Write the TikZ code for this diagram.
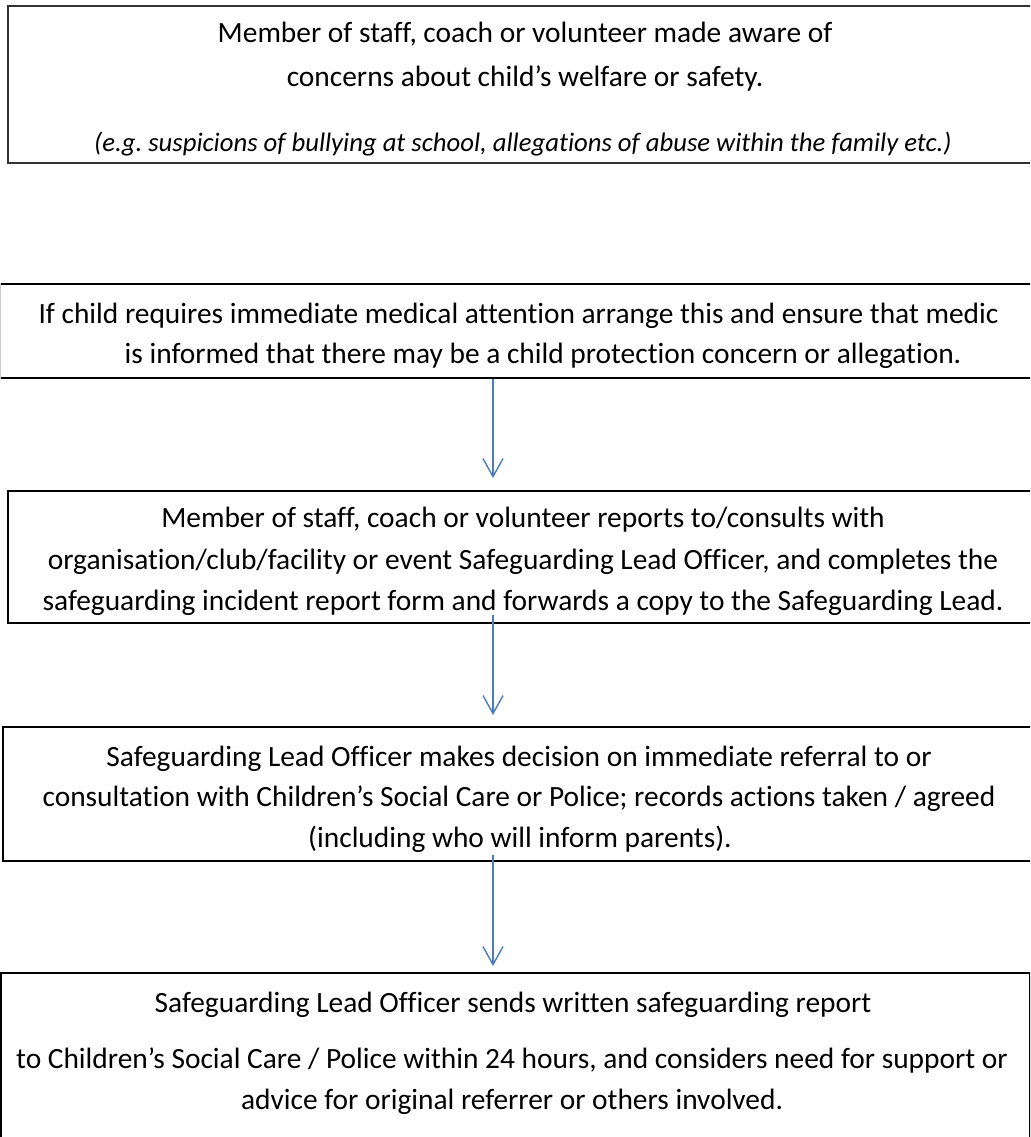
\documentclass[tikz,border=0pt]{standalone}
\usepackage{fontspec}
\setmainfont{Carlito}[Ligatures={NoCommon}]
\usetikzlibrary{arrows.meta}
\definecolor{arrblue}{HTML}{4A7EBB}
\definecolor{boxgray}{HTML}{333333}
\begin{document}
\frenchspacing
\begin{tikzpicture}[x=1pt,y=-1pt,
  box/.style={draw=black, line width=2pt, rectangle, inner sep=0pt, anchor=north west},
  txt/.style={anchor=base, inner sep=0pt, font=\fontsize{29.4}{34}\selectfont},
  itxt/.style={txt, font=\fontsize{26.7}{32}\selectfont\itshape},
  arr/.style={draw=arrblue, line width=1.4pt, -{Straight Barb[length=18pt,width=20pt,line width=1.4pt]}}]
\useasboundingbox (0,0) rectangle (1030,1137);
\clip (0,0) rectangle (1030,1137);
% boxes
\node[box, draw=boxgray, minimum width=1040pt, minimum height=157pt] (b1) at (7,5) {};
\node[box, minimum width=1040pt, minimum height=94pt, line width=2.4pt] (b2) at (-2,283) {};
\draw[gray!40, line width=1pt] (b2.north west -| 0.5,0) -- (b2.south west -| 0.5,0);
\node[box, minimum width=1040pt, minimum height=132pt] (b3) at (7,490) {};
\node[box, minimum width=1040pt, minimum height=134pt] (b4) at (2,726) {};
\node[box, minimum width=1029pt, minimum height=200pt, line width=1.5pt] (b5) at (0,972) {};
% texts
\node[txt] (t11) at (525,43) {Member of staff, coach or volunteer made aware of};
\node[txt] (t12) at (525,87) {concerns about child’s welfare or safety.};
\node[itxt] (t13) at (523,151) {(e.g. suspicions of bullying at school, allegations of abuse within the family etc.)};
\node[txt] (t21) at (518.5,323) {If child requires immediate medical attention arrange this and ensure that medic};
\node[txt] (t22) at (543,363) {is informed that there may be a child protection concern or allegation.};
\node[txt] (t31) at (523,527) {Member of staff, coach or volunteer reports to/consults with};
\node[txt] (t32) at (523,569) {organisation/club/facility or event Safeguarding Lead Officer, and completes the};
\node[txt] (t33) at (523,610) {safeguarding incident report form and forwards a copy to the Safeguarding Lead.};
\node[txt] (t41) at (519,766) {Safeguarding Lead Officer makes decision on immediate referral to or};
\node[txt] (t42) at (519,806) {consultation with Children’s Social Care or Police; records actions taken / agreed};
\node[txt] (t43) at (520,847) {(including who will inform parents).};
\node[txt] (t51) at (513,1012) {Safeguarding Lead Officer sends written safeguarding report};
\node[txt] (t52) at (512,1068) {to Children’s Social Care / Police within 24 hours, and considers need for support or};
\node[txt] (t53) at (512,1109) {advice for original referrer or others involved.};
% arrows
\coordinate (ax) at (493,0);
\draw[arr] (b2.south -| ax) -- ([yshift=12pt]b3.north -| ax);
\draw[arr] ([yshift=9pt]b3.south -| ax) -- ([yshift=11pt]b4.north -| ax);
\draw[arr] ([yshift=7pt]b4.south -| ax) -- ([yshift=6pt]b5.north -| ax);
\end{tikzpicture}
\end{document}
